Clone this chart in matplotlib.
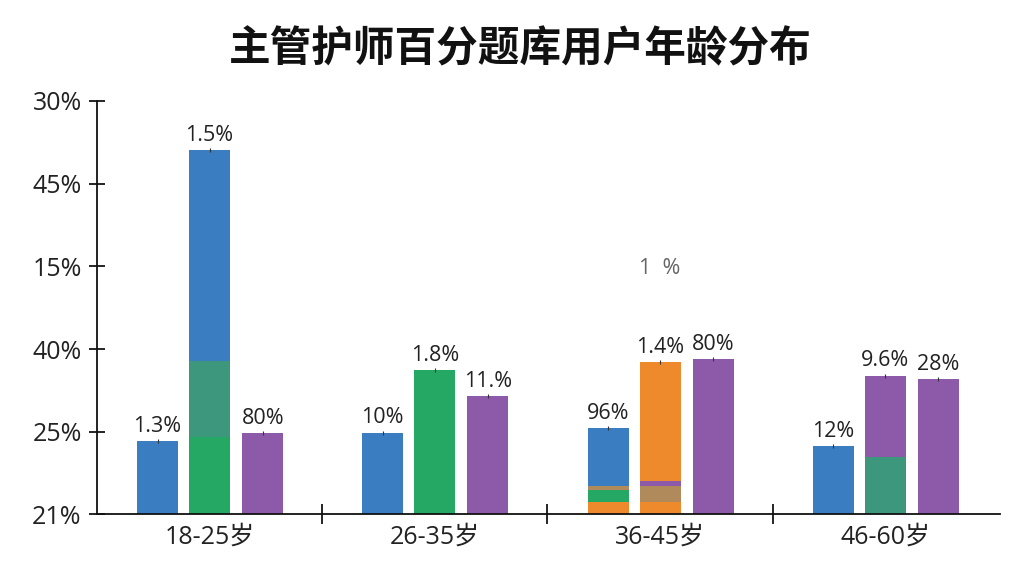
import matplotlib
matplotlib.use('Agg')
from matplotlib import pyplot as plt

plt.rcParams['font.family'] = ['Open Sans', 'Noto Sans CJK SC', 'DejaVu Sans']

# data (y values are in tick-step units, as drawn)
groups = ['18-25岁', '26-35岁', '36-45岁', '46-60岁']
ytick_labels = ['21%', '25%', '40%', '15%', '45%', '30%']

# each bar is a stack of (kind, height) segments, bottom to top
bars_1825 = [[('blue', 0.89)],
             [('green', 0.94), ('teal', 0.91), ('blue', 2.56)],
             [('purple', 0.98)]]
bars_2635 = [[('blue', 0.99)],
             [('green', 1.75)],
             [('purple', 1.43)]]
bars_3645 = [[('orange', 0.15), ('green', 0.14), ('tan', 0.05), ('blue', 0.71)],
             [('orange', 0.15), ('tan', 0.20), ('purple', 0.05), ('orange', 1.44)],
             [('purple', 1.88)]]
bars_4660 = [[('blue', 0.83)],
             [('teal', 0.70), ('purple', 0.98)],
             [('purple', 1.64)]]
all_bars = [bars_1825, bars_2635, bars_3645, bars_4660]

bar_labels = [['1.3%', '1.5%', '80%'],
              ['10%', '1.8%', '11.%'],
              ['96%', '1.4%', '80%'],
              ['12%', '9.6%', '28%']]

stray_text = '1  %'
stray_pos = (2.0, 2.98)

colors = {'blue': '#3a7dc0', 'green': '#24a863', 'teal': '#3d977c',
          'purple': '#8c5aa8', 'orange': '#ee8a2b', 'tan': '#b08a5a'}

fig = plt.figure(figsize=(10.24, 5.76), dpi=100)
ax = fig.add_axes([0.0947, 0.1068, 0.882, 0.7179])

offsets = [-0.231, 0.0, 0.236]
width = 0.182
for gi, bars in enumerate(all_bars):
    for bi, segs in enumerate(bars):
        x = gi + offsets[bi]
        bottom = 0.0
        for kind, h in segs:
            ax.bar(x, h, width=width, bottom=bottom, color=colors[kind], linewidth=0)
            bottom += h
        ax.plot([x], [bottom], marker='|', color='#333333', markersize=3, mew=0.8)
        ax.text(x, bottom + 0.05, bar_labels[gi][bi], ha='center', va='bottom',
                fontsize=15.5, color='#222222')

ax.text(stray_pos[0], stray_pos[1], stray_text, ha='center', va='center',
        fontsize=15.5, color='#666666')

ax.set_xlim(-0.5, 3.51)
ax.set_ylim(0, 5)
ax.set_yticks(range(len(ytick_labels)))
ax.set_yticklabels(ytick_labels, fontsize=18, color='#222222')
ax.set_xticks(range(len(groups)))
ax.set_xticklabels(groups, fontsize=18, color='#222222')
ax.set_xticks([0.5, 1.5, 2.5], minor=True)

ax.tick_params(axis='y', direction='inout', length=12, width=1.2, pad=5)
ax.tick_params(axis='x', which='major', length=0, pad=7)
ax.tick_params(axis='x', which='minor', direction='inout', length=14, width=1.2)

for s in ['top', 'right']:
    ax.spines[s].set_visible(False)
for s in ['left', 'bottom']:
    ax.spines[s].set_linewidth(1.3)
    ax.spines[s].set_color('#111111')

fig.suptitle('主管护师百分题库用户年龄分布', x=0.508, y=0.95, fontsize=30,
             fontweight='bold', color='#111111', family='Noto Sans CJK SC')

fig.savefig('out.png', dpi=100, facecolor='white')
